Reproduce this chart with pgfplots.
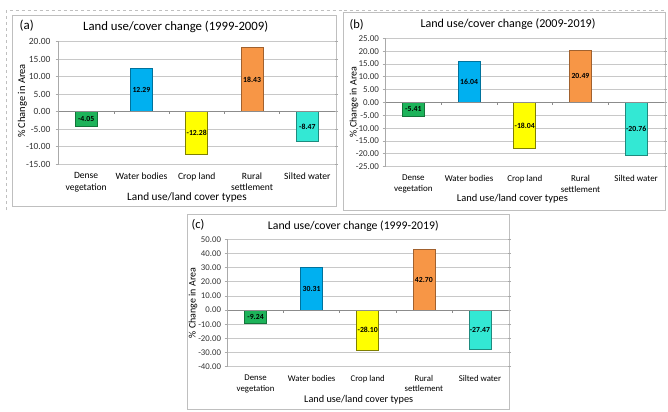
\documentclass[border=0pt]{standalone}
\usepackage{pgfplots}
\usepackage{pgfplotstable}
\pgfplotsset{compat=1.18}
\usepackage{fontspec}
\setmainfont{Carlito}

\definecolor{cDense}{HTML}{1DB35A}
\definecolor{cWater}{HTML}{00B0F0}
\definecolor{cCrop}{HTML}{FFFF00}
\definecolor{cRural}{HTML}{F79646}
\definecolor{cSilt}{HTML}{33E8D4}
\definecolor{gridc}{HTML}{C8C8C8}
\definecolor{boxc}{HTML}{BFBFBF}

\pgfplotstableread{
x v
0 -4.05
1 12.29
2 -12.28
3 18.43
4 -8.47
}\dataA
\pgfplotstableread{
x v
0 -5.41
1 16.04
2 -18.04
3 20.49
4 -20.76
}\dataB
\pgfplotstableread{
x v
0 -9.24
1 30.31
2 -28.10
3 42.70
4 -27.47
}\dataC

\pgfplotsset{
  panel/.style={
    scale only axis, anchor=south west,
    xmin=-0.5, xmax=4.5,
    xtick={0,1,2,3,4},
    xticklabels={{Dense\\vegetation},{Water bodies},{Crop land},{Rural\\settlement},{Silted water}},
    xticklabel style={align=center, anchor=north},
    ymajorgrids, grid style={gridc, line width=0.8bp},
    axis line style={draw=none},
    tick align=outside, major tick length=3bp,
    xtick style={draw=none},
    ytick style={gridc!85!black, line width=0.8bp},
    /pgf/number format/assume math mode=true,
    yticklabel style={/pgf/number format/fixed, /pgf/number format/fixed zerofill, /pgf/number format/precision=2, text=black!80},
    clip=false,
  },
  bar/.style={ybar, bar width=22bp, bar shift=0pt, line width=0.7bp},
  vlab/.style={draw=none, mark=none, forget plot, nodes near coords, point meta=explicit,
    y filter/.expression={y/2},
    nodes near coords style={anchor=center, font=\bfseries\fontsize{7.8}{9}\selectfont,
      /pgf/number format/fixed, /pgf/number format/fixed zerofill, /pgf/number format/precision=2}},
}

\newcommand{\drawbars}[1]{%
  \addplot[bar, fill=cDense, draw=cDense!65!black] table[x=x, y=v, restrict x to domain=-0.2:0.2] {#1};
  \addplot[bar, fill=cWater, draw=cWater!65!black] table[x=x, y=v, restrict x to domain=0.8:1.2] {#1};
  \addplot[bar, fill=cCrop, draw=cCrop!50!black] table[x=x, y=v, restrict x to domain=1.8:2.2] {#1};
  \addplot[bar, fill=cRural, draw=cRural!65!black] table[x=x, y=v, restrict x to domain=2.8:3.2] {#1};
  \addplot[bar, fill=cSilt, draw=cSilt!60!black] table[x=x, y=v, restrict x to domain=3.8:4.2] {#1};
  \addplot[vlab] table[x=x, y=v, meta=v] {#1};
  \draw[gridc!70!black, line width=0.6bp] (axis cs:-0.5,0) -- (axis cs:4.5,0);
  \pgfplotsinvokeforeach{0.5,1.5,2.5,3.5}{\draw[gridc!70!black, line width=0.6bp] (axis cs:##1,0) -- ([yshift=-2.5bp]axis cs:##1,0);}
  \draw[gridc!85!black, line width=0.8bp] (rel axis cs:0,0) -- (rel axis cs:0,1);
}

\begin{document}
\begin{tikzpicture}
\begin{scope}[x=1bp, y=-1bp]
  \path[use as bounding box] (0,0) rectangle (668,411);
  \draw[boxc, dashed, line width=0.6bp] (6,210) -- (6,10.5) -- (665,10.5);
  \draw[boxc, line width=0.8bp] (12,15) rectangle (336,206);
  \draw[boxc, line width=0.8bp] (343,12.5) rectangle (665,210);
  \draw[boxc, line width=0.8bp] (187,214.5) rectangle (509,409);
\end{scope}

% (a)
\begin{axis}[panel, at={(58.5bp,-164.3bp)}, width=276.5bp, height=122.6bp,
  ymin=-15, ymax=20, ytick={-15,-10,...,20},
  xticklabel style={font=\fontsize{9.6}{11.3}\selectfont, yshift=-2bp},
  yticklabel style={font=\fontsize{9.5}{11}\selectfont, xshift=-1.5bp}]
  \drawbars{\dataA}
\end{axis}

% (b)
\begin{axis}[panel, at={(385.5bp,-166.7bp)}, width=278.5bp, height=128.4bp,
  ymin=-25, ymax=25, ytick={-25,-20,...,25},
  xticklabel style={font=\fontsize{9.0}{11}\selectfont, yshift=-2bp},
  yticklabel style={font=\fontsize{9}{10}\selectfont}]
  \drawbars{\dataB}
\end{axis}

% (c)
\begin{axis}[panel, at={(227.5bp,-366.7bp)}, width=280.5bp, height=127.4bp,
  ymin=-40, ymax=50, ytick={-40,-30,...,50},
  xticklabel style={font=\fontsize{8.8}{10.6}\selectfont, yshift=-2bp},
  yticklabel style={font=\fontsize{8.8}{10}\selectfont}]
  \drawbars{\dataC}
\end{axis}

\begin{scope}[x=1bp, y=-1bp]
  % (a)
  \node[font=\fontsize{13}{15}\selectfont] at (26.7,26) {(a)};
  \node[font=\fontsize{12.8}{15}\selectfont] at (175.7,26.7) {Land use/cover change (1999-2009)};
  \node[rotate=90, font=\fontsize{10.5}{12}\selectfont] at (22.5,101) {\% Change in Area};
  \node[font=\fontsize{11.3}{13}\selectfont] at (187,197.5) {Land use/land cover types};
  % (b)
  \node[font=\fontsize{12.5}{15}\selectfont] at (356.7,25) {(b)};
  \node[font=\fontsize{12.1}{15}\selectfont] at (508,24.3) {Land use/cover change (2009-2019)};
  \node[rotate=90, font=\fontsize{10}{12}\selectfont] at (354,102) {\% Change in Area};
  \node[font=\fontsize{10.5}{13}\selectfont] at (512.5,198.3) {Land use/land cover types};
  % (c)
  \node[font=\fontsize{12.5}{15}\selectfont] at (198,224.5) {(c)};
  \node[font=\fontsize{11.8}{15}\selectfont] at (353.3,226.7) {Land use/cover change (1999-2019)};
  \node[rotate=90, font=\fontsize{10}{12}\selectfont] at (193,303) {\% Change in Area};
  \node[font=\fontsize{10.3}{13}\selectfont] at (358.7,400) {Land use/land cover types};
\end{scope}
\end{tikzpicture}
\end{document}
